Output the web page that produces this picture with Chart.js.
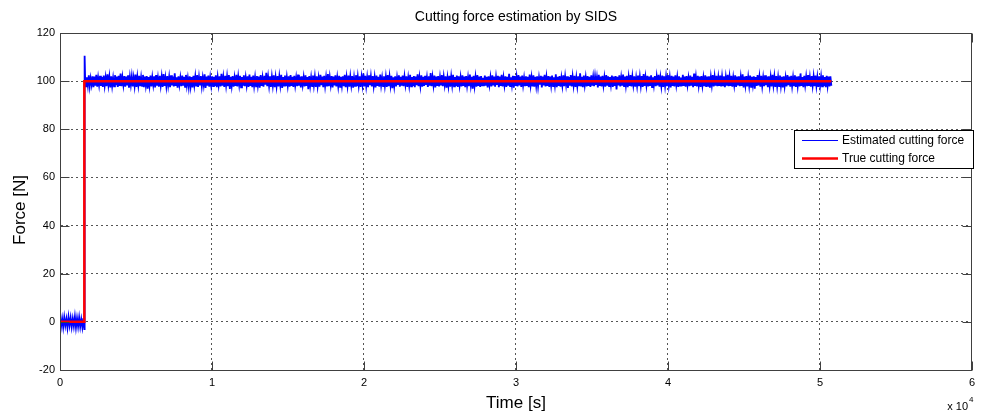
<!DOCTYPE html>
<html>
<head>
<meta charset="utf-8">
<script src="https://cdn.jsdelivr.net/npm/chart.js@4"></script>
<style>
  html, body { margin: 0; padding: 0; background: #fff; }
  #wrap { width: 981px; height: 414px; }
</style>
</head>
<body>
<div id="wrap"><canvas id="c" width="981" height="414"></canvas></div>
<script>
// ---- data (time in seconds, force in N) ----
const titleText = 'Cutting force estimation by SIDS';
const xTitle = 'Time [s]';
const yTitle = 'Force [N]';
const seriesNames = ['Estimated cutting force', 'True cutting force'];

const yTicks = [-20, 0, 20, 40, 60, 80, 100, 120];
const xTicks = [0, 10000, 20000, 30000, 40000, 50000, 60000];

// true cutting force (step)
const trueTime = [0, 1600, 1600, 50750];
const trueForce = [0, 0, 100, 100];

// estimated force before the cut starts (sampled 0..1600 s)
const preTime = [0, 70, 140, 210, 280, 350, 420, 490, 560, 630, 700, 770, 840, 910, 980, 1050, 1120, 1190, 1260, 1330, 1400, 1470, 1540, 1600, 1620];
const preForce = [1.6, -1.9, 1.4, -2.2, 1.9, -1.6, 1.2, -2.4, 2.0, -1.5, 1.7, -2.1, 1.3, -1.8, 2.1, -2.3, 1.5, -1.9, 1.8, -2.0, 1.1, -2.2, 1.6, -3.0, 110.5];

// estimated force while cutting (uniform samples from 1650 s to 50750 s)
const cutStart = 1650, cutEnd = 50750;
const cutForce = [
102.1,97.8,101.6,98.3,102.4,97.9,101.2,98.6,102.0,97.5,101.9,98.1,102.6,97.7,101.4,98.4,102.2,98.0,101.7,97.6,
102.3,98.2,101.5,97.9,102.8,98.5,101.8,97.4,102.0,98.1,101.3,97.8,102.5,98.3,101.9,97.6,102.2,98.0,103.1,97.9,
101.6,98.4,102.1,97.7,101.9,98.2,102.4,97.3,101.7,98.5,102.0,97.8,101.4,98.1,102.7,97.6,101.8,98.3,102.2,97.9,
101.5,98.0,102.6,97.5,101.9,98.4,102.1,96.9,101.7,98.2,102.3,97.8,101.6,98.5,102.0,97.4,102.5,98.1,101.3,97.7,
102.2,98.3,101.8,97.6,102.9,98.0,101.4,97.9,102.1,98.4,101.7,97.5,102.4,98.2,101.9,97.8,103.3,98.0,101.6,97.3,
102.0,98.5,101.5,97.9,102.3,98.1,101.8,97.6,102.6,98.3,101.2,97.7,102.0,98.0,101.7,97.4,102.2,98.4,101.9,97.8,
102.5,97.6,101.6,98.2,102.1,97.9,101.4,98.5,102.8,97.2,101.9,98.1,102.3,97.7,101.5,98.3,102.0,97.9,101.8,98.0,
102.4,97.5,101.7,98.4,102.0,97.8,103.0,98.1,101.6,97.6,102.2,98.3,101.9,97.9,102.5,96.8,101.8,98.2,102.1,97.7,
101.4,98.0,102.6,97.8,101.9,98.5,102.2,97.4,101.7,98.1,102.4,97.9,101.5,98.3,102.0,97.6,102.7,98.0,101.8,97.5,
102.3,98.2,101.6,97.8,102.1,98.4,101.9,97.3,102.5,98.0,101.4,97.7,102.2,98.5,103.5,97.9,101.7,98.1,102.0,97.6,
101.8,98.3,102.4,97.5,101.5,98.0,102.1,97.8,101.9,98.4,102.6,97.2,101.7,98.1,102.3,97.9,101.6,98.2,102.0,97.7,
102.5,98.0,101.8,97.6,102.2,98.3,101.4,97.9,102.7,98.1,101.9,97.4,102.0,98.5,101.6,97.8,102.4,98.0,101.7,96.7,
102.1,98.2,101.5,97.9,102.3,98.4,101.8,97.6,102.0,98.0,101.3,97.7,102.6,98.3,101.9,97.5,102.2,98.1,101.6,97.8,
102.9,97.9,101.7,98.5,102.1,97.4,101.9,98.2,102.4,97.8,101.5,98.0,102.2,97.6,101.8,98.3,102.0,97.9,102.6,97.5,
101.6,98.1,102.3,97.7,101.9,98.4,102.1,97.3,101.4,98.0,102.5,97.9,101.8,98.2,102.0,97.6,101.7,98.5,103.2,97.8,
102.2,98.0,101.5,97.5,102.4,98.3,101.9,97.8,102.1,98.1,101.6,97.4,102.3,98.0,101.8,97.7,102.7,98.4,101.4,97.9,
102.0,98.2,101.7,97.6,102.5,97.9,101.9,98.3,102.2,97.1,101.6,98.0,102.0,97.8,101.5,98.4,102.4,97.7,101.8,98.1,
102.3,97.9,101.9,98.5,102.0,97.6,101.4,98.2,102.6,97.8,101.7,98.0,102.1,97.5,101.9,98.3,102.8,97.9,101.6,98.1,
102.4,97.7,101.8,98.0,102.2,98.4,101.5,97.6,102.0,98.1,103.4,97.9,101.7,98.3,102.3,97.4,101.9,98.0,102.1,97.8,
101.6,98.2,102.5,97.9,101.8,98.5,102.0,97.3,101.4,98.1,102.2,97.7,101.9,98.4,102.6,97.8,101.7,98.0,102.3,97.6,
102.0,98.3,101.6,97.8,102.4,98.0,101.9,97.5,102.1,98.2,101.5,97.9,102.7,98.4,101.8,96.9,102.2,98.1,101.7,97.7,
102.5,98.0,101.9,97.6,102.1,98.3,101.4,97.9,102.3,98.1,101.8,97.4,102.0,98.5,101.6,97.8,102.4,98.2,101.9,97.7,
101.7,98.4,102.2,97.5,101.9,98.0,102.6,97.8,101.5,98.3,102.0,97.6,101.8,98.1,103.0,97.9,101.6,98.4,102.2,97.3,
102.1,98.0,101.7,97.8,102.5,98.2,101.9,97.6,102.3,98.4,101.4,97.9,102.0,98.0,101.8,97.5,102.7,98.3,101.6,97.8,
102.4,97.7,101.8,98.1,102.0,97.9,101.5,98.5,102.2,97.4,101.9,98.2,102.6,97.8,101.7,98.0,102.1,97.6,101.9,98.3,
102.3,97.9,101.6,98.4,102.8,97.5,101.8,98.0,102.1,97.7,101.4,98.2,102.4,97.9,101.9,98.5,102.0,97.2,101.7,98.1,
102.5,97.8,101.9,98.3,102.2,97.6,101.5,98.0,102.0,97.9,103.3,98.2,101.8,97.5,102.3,98.4,101.6,97.8,102.1,98.0,
101.8,97.6,102.4,98.1,101.7,97.9,102.0,98.4,101.5,97.4,102.6,98.0,101.9,97.8,102.2,98.3,101.6,97.7,102.5,98.1,
102.0,97.9,101.7,98.5,102.3,97.6,101.9,98.0,102.1,96.6,101.8,98.2,102.4,97.8,101.5,98.1,102.7,97.9,101.9,98.3,
102.2,97.5,101.6,98.0,102.5,97.8,101.9,98.4,102.0,97.7,101.4,98.1,102.3,97.9,101.8,98.2,102.1,97.6,102.9,98.0,
101.7,98.3,102.2,97.8,101.9,98.0,102.4,97.5,101.6,98.4,102.1,97.9,101.8,98.2,102.6,97.7,101.5,98.0,102.3,97.6,
102.0,98.1,101.8,97.9,102.5,98.3,101.6,97.4,102.2,98.0,101.9,97.8,102.4,98.5,101.7,97.6,102.0,98.2,101.5,97.9,
102.6,98.0,101.9,97.7,102.1,98.4,101.4,97.9,102.3,98.1,101.8,97.5,103.1,98.0,101.7,97.8,102.2,98.3,101.9,97.6,
102.1,98.2,101.5,97.9,102.4,97.6,101.9,98.0,102.0,97.3,101.7,98.4,102.5,97.8,101.8,98.1,102.2,97.9,101.6,98.0,
102.3,97.8,101.9,98.3,102.0,97.5,101.6,98.1,102.6,97.9,101.8,98.0,102.2,97.7,101.5,98.4,102.4,97.6,101.9,98.2,
102.0,97.9,101.7,98.0,102.8,97.4,101.9,98.3,102.1,97.8,101.6,98.1,102.3,97.6,101.8,98.5,102.0,96.9,101.7,98.0,
102.5,98.2,101.8,97.7,102.2,98.0,101.5,97.9,102.4,98.3,101.9,97.5,102.0,98.1,101.7,97.8,102.6,98.4,101.9,97.6,
102.1,98.0,101.6,97.9,102.3,98.2,101.8,97.4,102.0,98.0,101.4,97.8,102.5,98.3,101.9,97.7,102.2,98.1,101.6,97.9,
102.4,97.6,101.9,98.1,102.0,97.8,103.2,98.0,101.7,97.5,102.2,98.4,101.8,97.9,102.5,98.0,101.5,97.7,102.1,98.2,
101.9,97.9,102.3,98.1,101.6,97.6,102.0,98.3,101.8,97.8,102.4,98.0,101.7,97.5,102.2,98.2,101.9,97.8,102.0,98.1
];

// ---- build point tables ----
const estPoints = preTime.map((t, i) => ({ x: t, y: preForce[i] }));
const dt = (cutEnd - cutStart) / (cutForce.length - 1);
cutForce.forEach((v, i) => estPoints.push({ x: cutStart + i * dt, y: v }));
const truePoints = trueTime.map((t, i) => ({ x: t, y: trueForce[i] }));

const FONT = "'Liberation Sans', Arial, sans-serif";
const AXIS_COLOR = '#404040';

const decor = {
  id: 'decor',
  afterDraw(chart) {
    const { ctx, chartArea: a } = chart;
    const xs = chart.scales.x, ys = chart.scales.y;
    const L = Math.round(a.left) + 0.5, R = Math.round(a.right) - 0.5;
    const T = Math.round(a.top) + 0.5, B = Math.round(a.bottom) + 0.5;
    ctx.save();
    ctx.setLineDash([]);
    // inward tick marks
    ctx.strokeStyle = AXIS_COLOR;
    ctx.lineWidth = 1;
    ctx.beginPath();
    yTicks.forEach(v => {
      const y = Math.round(ys.getPixelForValue(v)) + 0.5;
      ctx.moveTo(L, y); ctx.lineTo(L + 9, y);
      ctx.moveTo(R, y); ctx.lineTo(R - 9, y);
    });
    xTicks.forEach(v => {
      const x = Math.round(xs.getPixelForValue(v)) + 0.5;
      ctx.moveTo(x, B); ctx.lineTo(x, B - 9);
      ctx.moveTo(x, T); ctx.lineTo(x, T + 9);
    });
    ctx.stroke();
    // axes box
    ctx.strokeStyle = AXIS_COLOR;
    ctx.strokeRect(L, T, R - L, B - T);
    ctx.fillStyle = '#000';
    // title
    ctx.font = '14px ' + FONT;
    ctx.textAlign = 'center';
    ctx.textBaseline = 'middle';
    ctx.fillText(titleText, (a.left + a.right) / 2, 17);
    // x title
    ctx.font = '17px ' + FONT;
    ctx.fillText(xTitle, (a.left + a.right) / 2, 403);
    // y title
    ctx.save();
    ctx.translate(20, 210);
    ctx.rotate(-Math.PI / 2);
    ctx.fillText(yTitle, 0, 0);
    ctx.restore();
    // exponent label
    ctx.font = '11px ' + FONT;
    ctx.textAlign = 'right';
    ctx.fillText('x 10', 968, 407);
    ctx.font = '8px ' + FONT;
    ctx.textAlign = 'left';
    ctx.fillText('4', 969, 400);
    // legend
    const lx = 794, ly = 130, lw = 179, lh = 38;
    ctx.fillStyle = '#fff';
    ctx.fillRect(lx, ly, lw, lh);
    ctx.strokeStyle = '#000';
    ctx.lineWidth = 1;
    ctx.strokeRect(lx + 0.5, ly + 0.5, lw, lh);
    const ds = chart.data.datasets;
    const rows = [{ d: ds[1], w: 1 }, { d: ds[0], w: 2.5 }];
    rows.forEach((r, i) => {
      const y = ly + 10.5 + i * 18;
      ctx.strokeStyle = r.d.borderColor;
      ctx.lineWidth = r.w;
      ctx.beginPath();
      ctx.moveTo(lx + 8, y);
      ctx.lineTo(lx + 44, y);
      ctx.stroke();
      ctx.fillStyle = '#000';
      ctx.font = '12px ' + FONT;
      ctx.textAlign = 'left';
      ctx.textBaseline = 'middle';
      ctx.fillText(r.d.label, lx + 48, y + 0.5);
    });
    ctx.restore();
  }
};

new Chart(document.getElementById('c'), {
  type: 'line',
  data: {
    datasets: [
      { label: seriesNames[1], data: truePoints, borderColor: '#ff0000', borderWidth: 2.5,
        pointRadius: 0, tension: 0, order: 0 },
      { label: seriesNames[0], data: estPoints, borderColor: '#0000ff', borderWidth: 1.8,
        pointRadius: 0, tension: 0, order: 1 }
    ]
  },
  options: {
    responsive: false,
    animation: false,
    events: [],
    layout: { padding: { top: 33, right: 5, left: 0, bottom: 0 } },
    plugins: { legend: { display: false }, title: { display: false }, tooltip: { enabled: false } },
    scales: {
      x: {
        type: 'linear', min: 0, max: 60000,
        afterBuildTicks: s => { s.ticks = xTicks.map(v => ({ value: v })); },
        afterFit: s => { s.height = 44; },
        ticks: { callback: v => String(v / 10000), color: '#000', padding: 6,
                 font: { family: FONT, size: 11 }, maxRotation: 0 },
        grid: { color: '#555', lineWidth: 1, drawTicks: false },
        border: { display: true, color: AXIS_COLOR, dash: [2, 3] }
      },
      y: {
        type: 'linear', min: -20, max: 120,
        afterBuildTicks: s => { s.ticks = yTicks.map(v => ({ value: v })); },
        afterFit: s => { s.width = 60; },
        ticks: { color: '#000', padding: 5, font: { family: FONT, size: 11 } },
        grid: { color: '#555', lineWidth: 1, drawTicks: false },
        border: { display: true, color: AXIS_COLOR, dash: [2, 3] }
      }
    }
  },
  plugins: [decor]
});
</script>
</body>
</html>
